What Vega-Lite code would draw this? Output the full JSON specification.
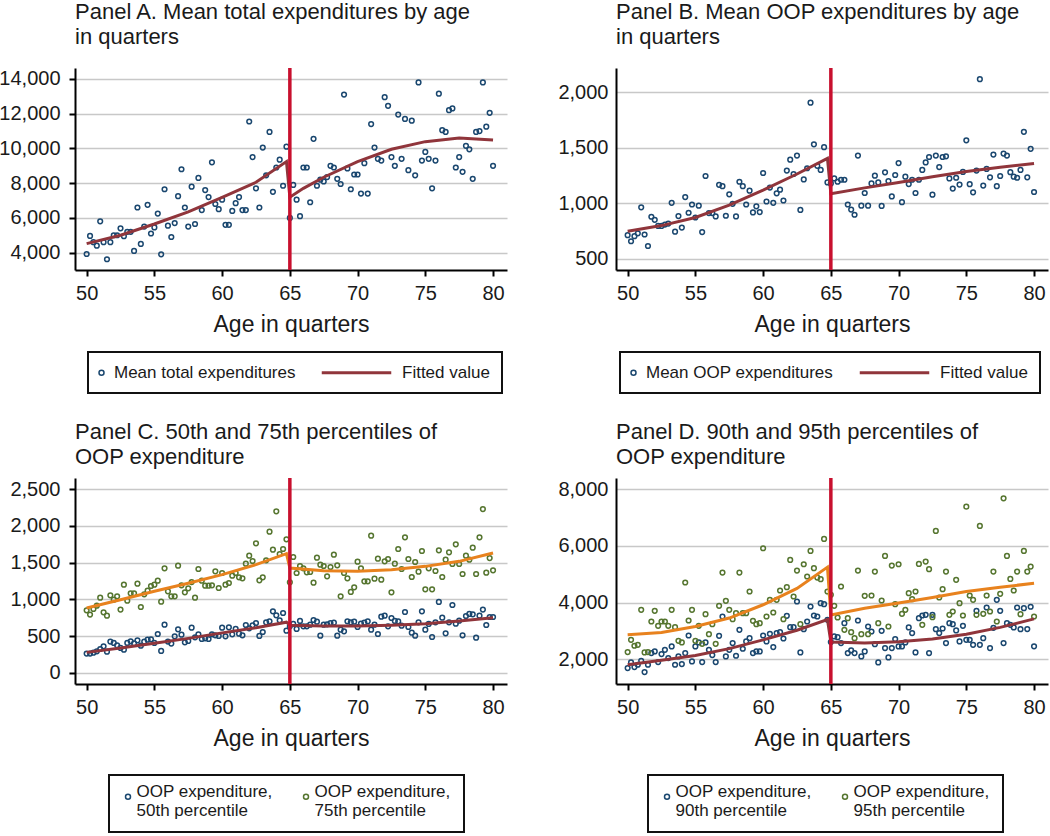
{
"$schema":"https://vega.github.io/schema/vega-lite/v6.json",
"autosize":{"type":"none"},
"padding":{"left":75,"top":68,"right":975,"bottom":768},
"background":"white",
"config":{
"font":"Liberation Sans",
"view":{"stroke":null},
"axis":{"domainColor":"#000","domainWidth":2,"tickColor":"#000","tickWidth":2,"tickSize":6,"labelFontSize":20,"labelColor":"#1a1a1a","titleFontSize":23,"titleFontWeight":"normal","titleColor":"#1a1a1a","gridColor":"#c8c8c8","gridWidth":1.5,"labelOverlap":false,"labelFlush":false},
"axisX":{"grid":false,"labelPadding":7,"titlePadding":10},
"axisY":{"grid":true,"labelPadding":9},
"legend":{"strokeColor":"#111","strokeWidth":2,"labelFontSize":17,"labelColor":"#1a1a1a","labelLimit":400,"symbolSize":25,"symbolStrokeWidth":1.5},
"title":{"fontSize":22,"fontWeight":"normal","anchor":"start","frame":"group","color":"#1a1a1a","lineHeight":25}
},
"datasets":{
"A":[{"age":50,"value":3920},{"age":50.25,"value":4960},{"age":50.5,"value":4600},{"age":50.75,"value":4400},{"age":51,"value":5800},{"age":51.25,"value":4600},{"age":51.5,"value":3620},{"age":51.75,"value":4600},{"age":52,"value":5000},{"age":52.25,"value":5000},
{"age":52.5,"value":5400},{"age":52.75,"value":4950},{"age":53,"value":5200},{"age":53.25,"value":5200},{"age":53.5,"value":4100},{"age":53.75,"value":6600},{"age":54,"value":4500},{"age":54.25,"value":5500},{"age":54.5,"value":6750},{"age":54.75,"value":5100},
{"age":55,"value":5450},{"age":55.25,"value":6250},{"age":55.5,"value":3900},{"age":55.75,"value":7650},{"age":56,"value":5550},{"age":56.25,"value":4900},{"age":56.5,"value":5700},{"age":56.75,"value":7250},{"age":57,"value":8800},{"age":57.25,"value":6600},
{"age":57.5,"value":5500},{"age":57.75,"value":7800},{"age":58,"value":5650},{"age":58.25,"value":8300},{"age":58.5,"value":6450},{"age":58.75,"value":7600},{"age":59,"value":7200},{"age":59.25,"value":9200},{"age":59.5,"value":6800},{"age":59.75,"value":6500},
{"age":60,"value":7050},{"age":60.25,"value":5600},{"age":60.5,"value":5600},{"age":60.75,"value":6400},{"age":61,"value":6850},{"age":61.25,"value":7200},{"age":61.5,"value":6450},{"age":61.75,"value":6450},{"age":62,"value":11550},{"age":62.25,"value":9500},
{"age":62.5,"value":7700},{"age":62.75,"value":6600},{"age":63,"value":10050},{"age":63.25,"value":8450},{"age":63.5,"value":10950},{"age":63.75,"value":7500},{"age":64,"value":8900},{"age":64.25,"value":9350},{"age":64.5,"value":7850},{"age":64.75,"value":10100},
{"age":65,"value":6000},
{"age":65.25,"value":7900},{"age":65.5,"value":7050},{"age":65.75,"value":6100},{"age":66,"value":8900},{"age":66.25,"value":8900},{"age":66.5,"value":6900},{"age":66.75,"value":10550},{"age":67,"value":7850},{"age":67.25,"value":8200},
{"age":67.5,"value":8100},{"age":67.75,"value":8350},{"age":68,"value":9000},{"age":68.25,"value":8900},{"age":68.5,"value":8250},{"age":68.75,"value":7950},{"age":69,"value":13100},{"age":69.25,"value":8850},{"age":69.5,"value":7650},{"age":69.75,"value":8500},
{"age":70,"value":8500},{"age":70.25,"value":7400},{"age":70.5,"value":9150},{"age":70.75,"value":7400},{"age":71,"value":11400},{"age":71.25,"value":10050},{"age":71.5,"value":9400},{"age":71.75,"value":9300},{"age":72,"value":12950},{"age":72.25,"value":12450},
{"age":72.5,"value":9500},{"age":72.75,"value":9000},{"age":73,"value":11950},{"age":73.25,"value":9400},{"age":73.5,"value":11700},{"age":73.75,"value":8750},{"age":74,"value":11600},{"age":74.25,"value":8450},{"age":74.5,"value":13800},{"age":74.75,"value":9300},
{"age":75,"value":9800},{"age":75.25,"value":9400},{"age":75.5,"value":7700},{"age":75.75,"value":9300},{"age":76,"value":13150},{"age":76.25,"value":11050},{"age":76.5,"value":10950},{"age":76.75,"value":12200},{"age":77,"value":12300},{"age":77.25,"value":8900},
{"age":77.5,"value":9500},{"age":77.75,"value":8650},{"age":78,"value":10150},{"age":78.25,"value":9950},{"age":78.5,"value":8250},{"age":78.75,"value":10950},{"age":79,"value":11000},{"age":79.25,"value":13800},{"age":79.5,"value":11250},{"age":79.75,"value":12050},{"age":80,"value":9000}],
"Afit":[{"age":50,"value":4520},{"age":52.5,"value":5000},{"age":55,"value":5650},{"age":57.5,"value":6350},{"age":60,"value":7180},{"age":62.5,"value":8050},{"age":64.75,"value":9240},{"age":65,"value":7190},{"age":66,"value":7700},{"age":67.5,"value":8340},{"age":70,"value":9240},{"age":72.5,"value":9950},{"age":75,"value":10390},{"age":77.5,"value":10600},{"age":80,"value":10490}],
"B":[{"age":50,"value":714},{"age":50.25,"value":659},{"age":50.5,"value":705},{"age":50.75,"value":730},{"age":51,"value":965},{"age":51.25,"value":720},{"age":51.5,"value":616},{"age":51.75,"value":880},{"age":52,"value":852},{"age":52.25,"value":797},
{"age":52.5,"value":797},{"age":52.75,"value":809},{"age":53,"value":818},{"age":53.25,"value":1005},{"age":53.5,"value":745},{"age":53.75,"value":886},{"age":54,"value":782},{"age":54.25,"value":1057},{"age":54.5,"value":916},{"age":54.75,"value":990},
{"age":55,"value":873},{"age":55.25,"value":980},{"age":55.5,"value":742},{"age":55.75,"value":1247},{"age":56,"value":913},{"age":56.25,"value":913},{"age":56.5,"value":883},{"age":56.75,"value":1167},{"age":57,"value":1155},{"age":57.25,"value":889},
{"age":57.5,"value":1082},{"age":57.75,"value":996},{"age":58,"value":883},{"age":58.25,"value":1195},{"age":58.5,"value":1155},{"age":58.75,"value":990},{"age":59,"value":1115},{"age":59.25,"value":919},{"age":59.5,"value":974},{"age":59.75,"value":922},
{"age":60,"value":1274},{"age":60.25,"value":1017},{"age":60.5,"value":1143},{"age":60.75,"value":1005},{"age":61,"value":1091},{"age":61.25,"value":1124},{"age":61.5,"value":1026},{"age":61.75,"value":1296},{"age":62,"value":1394},{"age":62.25,"value":1265},
{"age":62.5,"value":1431},{"age":62.75,"value":941},{"age":63,"value":1216},{"age":63.25,"value":1317},{"age":63.5,"value":1908},{"age":63.75,"value":1532},{"age":64,"value":1339},{"age":64.25,"value":1302},{"age":64.5,"value":1507},{"age":64.75,"value":1189},
{"age":65,"value":1180},
{"age":65.25,"value":1225},{"age":65.5,"value":1195},{"age":65.75,"value":1213},{"age":66,"value":1213},{"age":66.25,"value":990},{"age":66.5,"value":944},{"age":66.75,"value":898},{"age":67,"value":1431},{"age":67.25,"value":980},
{"age":67.5,"value":1094},{"age":67.75,"value":980},{"age":68,"value":1180},{"age":68.25,"value":1250},{"age":68.5,"value":1189},{"age":68.75,"value":977},{"age":69,"value":1280},{"age":69.25,"value":1201},{"age":69.5,"value":1063},{"age":69.75,"value":1256},
{"age":70,"value":1363},{"age":70.25,"value":1011},{"age":70.5,"value":1241},{"age":70.75,"value":1174},{"age":71,"value":1213},{"age":71.25,"value":1094},{"age":71.5,"value":1213},{"age":71.75,"value":1302},{"age":72,"value":1369},{"age":72.25,"value":1418},
{"age":72.5,"value":1079},{"age":72.75,"value":1431},{"age":73,"value":1327},{"age":73.25,"value":1418},{"age":73.5,"value":1424},{"age":73.75,"value":1225},{"age":74,"value":1134},{"age":74.25,"value":1231},{"age":74.5,"value":1170},{"age":74.75,"value":1284},
{"age":75,"value":1568},{"age":75.25,"value":1173},{"age":75.5,"value":1100},{"age":75.75,"value":1296},{"age":76,"value":2119},{"age":76.25,"value":1161},{"age":76.5,"value":1311},{"age":76.75,"value":1235},{"age":77,"value":1440},{"age":77.25,"value":1155},
{"age":77.5,"value":1247},{"age":77.75,"value":1449},{"age":78,"value":1431},{"age":78.25,"value":1281},{"age":78.5,"value":1241},{"age":78.75,"value":1231},{"age":79,"value":1302},{"age":79.25,"value":1645},{"age":79.5,"value":1235},{"age":79.75,"value":1492},{"age":80,"value":1103}],
"Bfit":[{"age":50,"value":750},{"age":52.5,"value":800},{"age":55,"value":873},{"age":57.5,"value":985},{"age":60,"value":1120},{"age":62.5,"value":1265},{"age":64.75,"value":1405},{"age":65,"value":1088},{"age":67.5,"value":1140},{"age":70,"value":1189},{"age":72.5,"value":1240},{"age":75,"value":1287},{"age":77.5,"value":1325},{"age":80,"value":1360}],
"C":[{"age":50,"value":263,"series":"50th percentile"},{"age":50.25,"value":263,"series":"50th percentile"},{"age":50.5,"value":276,"series":"50th percentile"},{"age":50.75,"value":294,"series":"50th percentile"},{"age":51,"value":326,"series":"50th percentile"},{"age":51.25,"value":362,"series":"50th percentile"},{"age":51.5,"value":290,"series":"50th percentile"},{"age":51.75,"value":426,"series":"50th percentile"},{"age":52,"value":408,"series":"50th percentile"},{"age":52.25,"value":376,"series":"50th percentile"},
{"age":52.5,"value":340,"series":"50th percentile"},{"age":52.75,"value":317,"series":"50th percentile"},{"age":53,"value":408,"series":"50th percentile"},{"age":53.25,"value":430,"series":"50th percentile"},{"age":53.5,"value":403,"series":"50th percentile"},{"age":53.75,"value":444,"series":"50th percentile"},{"age":54,"value":371,"series":"50th percentile"},{"age":54.25,"value":426,"series":"50th percentile"},{"age":54.5,"value":453,"series":"50th percentile"},{"age":54.75,"value":457,"series":"50th percentile"},
{"age":55,"value":408,"series":"50th percentile"},{"age":55.25,"value":530,"series":"50th percentile"},{"age":55.5,"value":299,"series":"50th percentile"},{"age":55.75,"value":657,"series":"50th percentile"},{"age":56,"value":426,"series":"50th percentile"},{"age":56.25,"value":399,"series":"50th percentile"},{"age":56.5,"value":498,"series":"50th percentile"},{"age":56.75,"value":593,"series":"50th percentile"},{"age":57,"value":521,"series":"50th percentile"},{"age":57.25,"value":417,"series":"50th percentile"},
{"age":57.5,"value":435,"series":"50th percentile"},{"age":57.75,"value":616,"series":"50th percentile"},{"age":58,"value":485,"series":"50th percentile"},{"age":58.25,"value":525,"series":"50th percentile"},{"age":58.5,"value":462,"series":"50th percentile"},{"age":58.75,"value":471,"series":"50th percentile"},{"age":59,"value":462,"series":"50th percentile"},{"age":59.25,"value":525,"series":"50th percentile"},{"age":59.5,"value":512,"series":"50th percentile"},{"age":59.75,"value":503,"series":"50th percentile"},
{"age":60,"value":616,"series":"50th percentile"},{"age":60.25,"value":498,"series":"50th percentile"},{"age":60.5,"value":620,"series":"50th percentile"},{"age":60.75,"value":525,"series":"50th percentile"},{"age":61,"value":598,"series":"50th percentile"},{"age":61.25,"value":534,"series":"50th percentile"},{"age":61.5,"value":512,"series":"50th percentile"},{"age":61.75,"value":652,"series":"50th percentile"},{"age":62,"value":607,"series":"50th percentile"},{"age":62.25,"value":648,"series":"50th percentile"},
{"age":62.5,"value":679,"series":"50th percentile"},{"age":62.75,"value":503,"series":"50th percentile"},{"age":63,"value":557,"series":"50th percentile"},{"age":63.25,"value":688,"series":"50th percentile"},{"age":63.5,"value":702,"series":"50th percentile"},{"age":63.75,"value":838,"series":"50th percentile"},{"age":64,"value":783,"series":"50th percentile"},{"age":64.25,"value":716,"series":"50th percentile"},{"age":64.5,"value":815,"series":"50th percentile"},{"age":64.75,"value":575,"series":"50th percentile"},
{"age":65,"value":634,"series":"50th percentile"},
{"age":65.25,"value":666,"series":"50th percentile"},{"age":65.5,"value":598,"series":"50th percentile"},{"age":65.75,"value":707,"series":"50th percentile"},{"age":66,"value":634,"series":"50th percentile"},{"age":66.25,"value":634,"series":"50th percentile"},{"age":66.5,"value":657,"series":"50th percentile"},{"age":66.75,"value":720,"series":"50th percentile"},{"age":67,"value":697,"series":"50th percentile"},{"age":67.25,"value":507,"series":"50th percentile"},
{"age":67.5,"value":657,"series":"50th percentile"},{"age":67.75,"value":661,"series":"50th percentile"},{"age":68,"value":679,"series":"50th percentile"},{"age":68.25,"value":684,"series":"50th percentile"},{"age":68.5,"value":507,"series":"50th percentile"},{"age":68.75,"value":589,"series":"50th percentile"},{"age":69,"value":566,"series":"50th percentile"},{"age":69.25,"value":702,"series":"50th percentile"},{"age":69.5,"value":688,"series":"50th percentile"},{"age":69.75,"value":697,"series":"50th percentile"},
{"age":70,"value":625,"series":"50th percentile"},{"age":70.25,"value":670,"series":"50th percentile"},{"age":70.5,"value":684,"series":"50th percentile"},{"age":70.75,"value":702,"series":"50th percentile"},{"age":71,"value":589,"series":"50th percentile"},{"age":71.25,"value":657,"series":"50th percentile"},{"age":71.5,"value":530,"series":"50th percentile"},{"age":71.75,"value":765,"series":"50th percentile"},{"age":72,"value":779,"series":"50th percentile"},{"age":72.25,"value":634,"series":"50th percentile"},
{"age":72.5,"value":747,"series":"50th percentile"},{"age":72.75,"value":707,"series":"50th percentile"},{"age":73,"value":702,"series":"50th percentile"},{"age":73.25,"value":643,"series":"50th percentile"},{"age":73.5,"value":829,"series":"50th percentile"},{"age":73.75,"value":625,"series":"50th percentile"},{"age":74,"value":548,"series":"50th percentile"},{"age":74.25,"value":507,"series":"50th percentile"},{"age":74.5,"value":688,"series":"50th percentile"},{"age":74.75,"value":838,"series":"50th percentile"},
{"age":75,"value":589,"series":"50th percentile"},{"age":75.25,"value":666,"series":"50th percentile"},{"age":75.5,"value":489,"series":"50th percentile"},{"age":75.75,"value":688,"series":"50th percentile"},{"age":76,"value":965,"series":"50th percentile"},{"age":76.25,"value":752,"series":"50th percentile"},{"age":76.5,"value":539,"series":"50th percentile"},{"age":76.75,"value":688,"series":"50th percentile"},{"age":77,"value":924,"series":"50th percentile"},{"age":77.25,"value":670,"series":"50th percentile"},
{"age":77.5,"value":711,"series":"50th percentile"},{"age":77.75,"value":512,"series":"50th percentile"},{"age":78,"value":774,"series":"50th percentile"},{"age":78.25,"value":802,"series":"50th percentile"},{"age":78.5,"value":797,"series":"50th percentile"},{"age":78.75,"value":480,"series":"50th percentile"},{"age":79,"value":779,"series":"50th percentile"},{"age":79.25,"value":861,"series":"50th percentile"},{"age":79.5,"value":652,"series":"50th percentile"},{"age":79.75,"value":761,"series":"50th percentile"},{"age":80,"value":761,"series":"50th percentile"},
{"age":50,"value":851,"series":"75th percentile"},{"age":50.25,"value":793,"series":"75th percentile"},{"age":50.5,"value":870,"series":"75th percentile"},{"age":50.75,"value":915,"series":"75th percentile"},{"age":51,"value":1024,"series":"75th percentile"},{"age":51.25,"value":824,"series":"75th percentile"},{"age":51.5,"value":779,"series":"75th percentile"},{"age":51.75,"value":1055,"series":"75th percentile"},{"age":52,"value":996,"series":"75th percentile"},{"age":52.25,"value":1042,"series":"75th percentile"},
{"age":52.5,"value":861,"series":"75th percentile"},{"age":52.75,"value":1200,"series":"75th percentile"},{"age":53,"value":983,"series":"75th percentile"},{"age":53.25,"value":1082,"series":"75th percentile"},{"age":53.5,"value":1082,"series":"75th percentile"},{"age":53.75,"value":1214,"series":"75th percentile"},{"age":54,"value":897,"series":"75th percentile"},{"age":54.25,"value":1069,"series":"75th percentile"},{"age":54.5,"value":1119,"series":"75th percentile"},{"age":54.75,"value":1182,"series":"75th percentile"},
{"age":55,"value":1200,"series":"75th percentile"},{"age":55.25,"value":1254,"series":"75th percentile"},{"age":55.5,"value":969,"series":"75th percentile"},{"age":55.75,"value":1422,"series":"75th percentile"},{"age":56,"value":1110,"series":"75th percentile"},{"age":56.25,"value":1042,"series":"75th percentile"},{"age":56.5,"value":1042,"series":"75th percentile"},{"age":56.75,"value":1458,"series":"75th percentile"},{"age":57,"value":1191,"series":"75th percentile"},{"age":57.25,"value":1096,"series":"75th percentile"},
{"age":57.5,"value":1150,"series":"75th percentile"},{"age":57.75,"value":1236,"series":"75th percentile"},{"age":58,"value":1024,"series":"75th percentile"},{"age":58.25,"value":1413,"series":"75th percentile"},{"age":58.5,"value":1254,"series":"75th percentile"},{"age":58.75,"value":1187,"series":"75th percentile"},{"age":59,"value":1187,"series":"75th percentile"},{"age":59.25,"value":1191,"series":"75th percentile"},{"age":59.5,"value":1381,"series":"75th percentile"},{"age":59.75,"value":1155,"series":"75th percentile"},
{"age":60,"value":1359,"series":"75th percentile"},{"age":60.25,"value":1200,"series":"75th percentile"},{"age":60.5,"value":1223,"series":"75th percentile"},{"age":60.75,"value":1322,"series":"75th percentile"},{"age":61,"value":1359,"series":"75th percentile"},{"age":61.25,"value":1300,"series":"75th percentile"},{"age":61.5,"value":1286,"series":"75th percentile"},{"age":61.75,"value":1485,"series":"75th percentile"},{"age":62,"value":1594,"series":"75th percentile"},{"age":62.25,"value":1522,"series":"75th percentile"},
{"age":62.5,"value":1762,"series":"75th percentile"},{"age":62.75,"value":1259,"series":"75th percentile"},{"age":63,"value":1300,"series":"75th percentile"},{"age":63.25,"value":1531,"series":"75th percentile"},{"age":63.5,"value":1920,"series":"75th percentile"},{"age":63.75,"value":1676,"series":"75th percentile"},{"age":64,"value":2197,"series":"75th percentile"},{"age":64.25,"value":1617,"series":"75th percentile"},{"age":64.5,"value":1685,"series":"75th percentile"},{"age":64.75,"value":1816,"series":"75th percentile"},
{"age":65,"value":1232,"series":"75th percentile"},
{"age":65.25,"value":1576,"series":"75th percentile"},{"age":65.5,"value":1359,"series":"75th percentile"},{"age":65.75,"value":1454,"series":"75th percentile"},{"age":66,"value":1422,"series":"75th percentile"},{"age":66.25,"value":1368,"series":"75th percentile"},{"age":66.5,"value":1372,"series":"75th percentile"},{"age":66.75,"value":1227,"series":"75th percentile"},{"age":67,"value":1567,"series":"75th percentile"},{"age":67.25,"value":1472,"series":"75th percentile"},
{"age":67.5,"value":1454,"series":"75th percentile"},{"age":67.75,"value":1313,"series":"75th percentile"},{"age":68,"value":1440,"series":"75th percentile"},{"age":68.25,"value":1608,"series":"75th percentile"},{"age":68.5,"value":1463,"series":"75th percentile"},{"age":68.75,"value":1042,"series":"75th percentile"},{"age":69,"value":1359,"series":"75th percentile"},{"age":69.25,"value":1286,"series":"75th percentile"},{"age":69.5,"value":1101,"series":"75th percentile"},{"age":69.75,"value":1164,"series":"75th percentile"},
{"age":70,"value":1513,"series":"75th percentile"},{"age":70.25,"value":1422,"series":"75th percentile"},{"age":70.5,"value":1245,"series":"75th percentile"},{"age":70.75,"value":1245,"series":"75th percentile"},{"age":71,"value":1866,"series":"75th percentile"},{"age":71.25,"value":1282,"series":"75th percentile"},{"age":71.5,"value":1553,"series":"75th percentile"},{"age":71.75,"value":1268,"series":"75th percentile"},{"age":72,"value":1517,"series":"75th percentile"},{"age":72.25,"value":1549,"series":"75th percentile"},
{"age":72.5,"value":1096,"series":"75th percentile"},{"age":72.75,"value":1485,"series":"75th percentile"},{"age":73,"value":1685,"series":"75th percentile"},{"age":73.25,"value":1413,"series":"75th percentile"},{"age":73.5,"value":1843,"series":"75th percentile"},{"age":73.75,"value":1549,"series":"75th percentile"},{"age":74,"value":1304,"series":"75th percentile"},{"age":74.25,"value":1508,"series":"75th percentile"},{"age":74.5,"value":1377,"series":"75th percentile"},{"age":74.75,"value":1658,"series":"75th percentile"},
{"age":75,"value":1137,"series":"75th percentile"},{"age":75.25,"value":1422,"series":"75th percentile"},{"age":75.5,"value":1137,"series":"75th percentile"},{"age":75.75,"value":1386,"series":"75th percentile"},{"age":76,"value":1667,"series":"75th percentile"},{"age":76.25,"value":1304,"series":"75th percentile"},{"age":76.5,"value":1540,"series":"75th percentile"},{"age":76.75,"value":1640,"series":"75th percentile"},{"age":77,"value":1481,"series":"75th percentile"},{"age":77.25,"value":1748,"series":"75th percentile"},
{"age":77.5,"value":1481,"series":"75th percentile"},{"age":77.75,"value":1345,"series":"75th percentile"},{"age":78,"value":1594,"series":"75th percentile"},{"age":78.25,"value":1540,"series":"75th percentile"},{"age":78.5,"value":1703,"series":"75th percentile"},{"age":78.75,"value":1345,"series":"75th percentile"},{"age":79,"value":1843,"series":"75th percentile"},{"age":79.25,"value":2228,"series":"75th percentile"},{"age":79.5,"value":1363,"series":"75th percentile"},{"age":79.75,"value":1562,"series":"75th percentile"},{"age":80,"value":1395,"series":"75th percentile"}],
"Cfit":[{"age":50,"value":280,"series":"50th percentile"},{"age":52.5,"value":340,"series":"50th percentile"},{"age":55,"value":405,"series":"50th percentile"},{"age":57.5,"value":470,"series":"50th percentile"},{"age":60,"value":545,"series":"50th percentile"},{"age":62.5,"value":615,"series":"50th percentile"},{"age":64.75,"value":690,"series":"50th percentile"},{"age":65,"value":650,"series":"50th percentile"},{"age":67.5,"value":640,"series":"50th percentile"},{"age":70,"value":640,"series":"50th percentile"},{"age":72.5,"value":650,"series":"50th percentile"},{"age":75,"value":670,"series":"50th percentile"},{"age":77.5,"value":705,"series":"50th percentile"},{"age":80,"value":750,"series":"50th percentile"},
{"age":50,"value":883,"series":"75th percentile"},{"age":52.5,"value":995,"series":"75th percentile"},{"age":55,"value":1110,"series":"75th percentile"},{"age":57.5,"value":1220,"series":"75th percentile"},{"age":60,"value":1336,"series":"75th percentile"},{"age":62.5,"value":1472,"series":"75th percentile"},{"age":64.75,"value":1621,"series":"75th percentile"},{"age":65,"value":1427,"series":"75th percentile"},{"age":67.5,"value":1390,"series":"75th percentile"},{"age":70,"value":1381,"series":"75th percentile"},{"age":72.5,"value":1404,"series":"75th percentile"},{"age":75,"value":1449,"series":"75th percentile"},{"age":77.5,"value":1517,"series":"75th percentile"},{"age":80,"value":1630,"series":"75th percentile"}],
"D":[{"age":50,"value":1682,"series":"90th percentile"},{"age":50.25,"value":1882,"series":"90th percentile"},{"age":50.5,"value":1718,"series":"90th percentile"},{"age":50.75,"value":1800,"series":"90th percentile"},{"age":51,"value":1941,"series":"90th percentile"},{"age":51.25,"value":1541,"series":"90th percentile"},{"age":51.5,"value":1800,"series":"90th percentile"},{"age":51.75,"value":2212,"series":"90th percentile"},{"age":52,"value":2271,"series":"90th percentile"},{"age":52.25,"value":1894,"series":"90th percentile"},
{"age":52.5,"value":2176,"series":"90th percentile"},{"age":52.75,"value":2329,"series":"90th percentile"},{"age":53,"value":2035,"series":"90th percentile"},{"age":53.25,"value":2447,"series":"90th percentile"},{"age":53.5,"value":1800,"series":"90th percentile"},{"age":53.75,"value":2094,"series":"90th percentile"},{"age":54,"value":1824,"series":"90th percentile"},{"age":54.25,"value":2212,"series":"90th percentile"},{"age":54.5,"value":2835,"series":"90th percentile"},{"age":54.75,"value":1918,"series":"90th percentile"},
{"age":55,"value":2447,"series":"90th percentile"},{"age":55.25,"value":2588,"series":"90th percentile"},{"age":55.5,"value":1894,"series":"90th percentile"},{"age":55.75,"value":2588,"series":"90th percentile"},{"age":56,"value":2329,"series":"90th percentile"},{"age":56.25,"value":2141,"series":"90th percentile"},{"age":56.5,"value":1894,"series":"90th percentile"},{"age":56.75,"value":2824,"series":"90th percentile"},{"age":57,"value":3506,"series":"90th percentile"},{"age":57.25,"value":2094,"series":"90th percentile"},
{"age":57.5,"value":2329,"series":"90th percentile"},{"age":57.75,"value":2565,"series":"90th percentile"},{"age":58,"value":2118,"series":"90th percentile"},{"age":58.25,"value":3035,"series":"90th percentile"},{"age":58.5,"value":2365,"series":"90th percentile"},{"age":58.75,"value":2624,"series":"90th percentile"},{"age":59,"value":2741,"series":"90th percentile"},{"age":59.25,"value":2212,"series":"90th percentile"},{"age":59.5,"value":2271,"series":"90th percentile"},{"age":59.75,"value":2271,"series":"90th percentile"},
{"age":60,"value":2835,"series":"90th percentile"},{"age":60.25,"value":2624,"series":"90th percentile"},{"age":60.5,"value":2894,"series":"90th percentile"},{"age":60.75,"value":2424,"series":"90th percentile"},{"age":61,"value":2918,"series":"90th percentile"},{"age":61.25,"value":2953,"series":"90th percentile"},{"age":61.5,"value":2729,"series":"90th percentile"},{"age":61.75,"value":3529,"series":"90th percentile"},{"age":62,"value":3129,"series":"90th percentile"},{"age":62.25,"value":3129,"series":"90th percentile"},
{"age":62.5,"value":4035,"series":"90th percentile"},{"age":62.75,"value":2235,"series":"90th percentile"},{"age":63,"value":3059,"series":"90th percentile"},{"age":63.25,"value":3329,"series":"90th percentile"},{"age":63.5,"value":3859,"series":"90th percentile"},{"age":63.75,"value":3541,"series":"90th percentile"},{"age":64,"value":3506,"series":"90th percentile"},{"age":64.25,"value":3976,"series":"90th percentile"},{"age":64.5,"value":3941,"series":"90th percentile"},{"age":64.75,"value":3388,"series":"90th percentile"},
{"age":65,"value":2600,"series":"90th percentile"},
{"age":65.25,"value":2800,"series":"90th percentile"},{"age":65.5,"value":2776,"series":"90th percentile"},{"age":65.75,"value":2565,"series":"90th percentile"},{"age":66,"value":3271,"series":"90th percentile"},{"age":66.25,"value":2212,"series":"90th percentile"},{"age":66.5,"value":2306,"series":"90th percentile"},{"age":66.75,"value":2212,"series":"90th percentile"},{"age":67,"value":3365,"series":"90th percentile"},{"age":67.25,"value":2094,"series":"90th percentile"},
{"age":67.5,"value":2271,"series":"90th percentile"},{"age":67.75,"value":3153,"series":"90th percentile"},{"age":68,"value":2976,"series":"90th percentile"},{"age":68.25,"value":2529,"series":"90th percentile"},{"age":68.5,"value":1882,"series":"90th percentile"},{"age":68.75,"value":3000,"series":"90th percentile"},{"age":69,"value":2388,"series":"90th percentile"},{"age":69.25,"value":2059,"series":"90th percentile"},{"age":69.5,"value":2388,"series":"90th percentile"},{"age":69.75,"value":2706,"series":"90th percentile"},
{"age":70,"value":2447,"series":"90th percentile"},{"age":70.25,"value":2447,"series":"90th percentile"},{"age":70.5,"value":2588,"series":"90th percentile"},{"age":70.75,"value":3118,"series":"90th percentile"},{"age":71,"value":2918,"series":"90th percentile"},{"age":71.25,"value":2235,"series":"90th percentile"},{"age":71.5,"value":3447,"series":"90th percentile"},{"age":71.75,"value":3541,"series":"90th percentile"},{"age":72,"value":3565,"series":"90th percentile"},{"age":72.25,"value":2212,"series":"90th percentile"},
{"age":72.5,"value":3565,"series":"90th percentile"},{"age":72.75,"value":3059,"series":"90th percentile"},{"age":73,"value":2918,"series":"90th percentile"},{"age":73.25,"value":3082,"series":"90th percentile"},{"age":73.5,"value":2565,"series":"90th percentile"},{"age":73.75,"value":3271,"series":"90th percentile"},{"age":74,"value":3235,"series":"90th percentile"},{"age":74.25,"value":3012,"series":"90th percentile"},{"age":74.5,"value":2624,"series":"90th percentile"},{"age":74.75,"value":3176,"series":"90th percentile"},
{"age":75,"value":2682,"series":"90th percentile"},{"age":75.25,"value":2682,"series":"90th percentile"},{"age":75.5,"value":2506,"series":"90th percentile"},{"age":75.75,"value":3706,"series":"90th percentile"},{"age":76,"value":2506,"series":"90th percentile"},{"age":76.25,"value":2741,"series":"90th percentile"},{"age":76.5,"value":3824,"series":"90th percentile"},{"age":76.75,"value":2388,"series":"90th percentile"},{"age":77,"value":3106,"series":"90th percentile"},{"age":77.25,"value":4094,"series":"90th percentile"},
{"age":77.5,"value":3706,"series":"90th percentile"},{"age":77.75,"value":2565,"series":"90th percentile"},{"age":78,"value":3271,"series":"90th percentile"},{"age":78.25,"value":3212,"series":"90th percentile"},{"age":78.5,"value":3118,"series":"90th percentile"},{"age":78.75,"value":3824,"series":"90th percentile"},{"age":79,"value":3059,"series":"90th percentile"},{"age":79.25,"value":3800,"series":"90th percentile"},{"age":79.5,"value":3060,"series":"90th percentile"},{"age":79.75,"value":3850,"series":"90th percentile"},{"age":80,"value":2450,"series":"90th percentile"},
{"age":50,"value":2247,"series":"95th percentile"},{"age":50.25,"value":2682,"series":"95th percentile"},{"age":50.5,"value":2471,"series":"95th percentile"},{"age":50.75,"value":2506,"series":"95th percentile"},{"age":51,"value":3741,"series":"95th percentile"},{"age":51.25,"value":2235,"series":"95th percentile"},{"age":51.5,"value":2247,"series":"95th percentile"},{"age":51.75,"value":3329,"series":"95th percentile"},{"age":52,"value":3706,"series":"95th percentile"},{"age":52.25,"value":3176,"series":"95th percentile"},
{"age":52.5,"value":3329,"series":"95th percentile"},{"age":52.75,"value":3329,"series":"95th percentile"},{"age":53,"value":3176,"series":"95th percentile"},{"age":53.25,"value":3741,"series":"95th percentile"},{"age":53.5,"value":3129,"series":"95th percentile"},{"age":53.75,"value":2647,"series":"95th percentile"},{"age":54,"value":2588,"series":"95th percentile"},{"age":54.25,"value":4706,"series":"95th percentile"},{"age":54.5,"value":3365,"series":"95th percentile"},{"age":54.75,"value":3741,"series":"95th percentile"},
{"age":55,"value":2647,"series":"95th percentile"},{"age":55.25,"value":3176,"series":"95th percentile"},{"age":55.5,"value":2541,"series":"95th percentile"},{"age":55.75,"value":3588,"series":"95th percentile"},{"age":56,"value":2882,"series":"95th percentile"},{"age":56.25,"value":3235,"series":"95th percentile"},{"age":56.5,"value":2541,"series":"95th percentile"},{"age":56.75,"value":3882,"series":"95th percentile"},{"age":57,"value":5059,"series":"95th percentile"},{"age":57.25,"value":4059,"series":"95th percentile"},
{"age":57.5,"value":3741,"series":"95th percentile"},{"age":57.75,"value":3412,"series":"95th percentile"},{"age":58,"value":3624,"series":"95th percentile"},{"age":58.25,"value":5059,"series":"95th percentile"},{"age":58.5,"value":3624,"series":"95th percentile"},{"age":58.75,"value":3624,"series":"95th percentile"},{"age":59,"value":4388,"series":"95th percentile"},{"age":59.25,"value":3353,"series":"95th percentile"},{"age":59.5,"value":3235,"series":"95th percentile"},{"age":59.75,"value":3271,"series":"95th percentile"},
{"age":60,"value":5918,"series":"95th percentile"},{"age":60.25,"value":3506,"series":"95th percentile"},{"age":60.5,"value":4094,"series":"95th percentile"},{"age":60.75,"value":3647,"series":"95th percentile"},{"age":61,"value":4094,"series":"95th percentile"},{"age":61.25,"value":4424,"series":"95th percentile"},{"age":61.5,"value":3412,"series":"95th percentile"},{"age":61.75,"value":4541,"series":"95th percentile"},{"age":62,"value":5506,"series":"95th percentile"},{"age":62.25,"value":4212,"series":"95th percentile"},
{"age":62.5,"value":5129,"series":"95th percentile"},{"age":62.75,"value":3235,"series":"95th percentile"},{"age":63,"value":5353,"series":"95th percentile"},{"age":63.25,"value":4918,"series":"95th percentile"},{"age":63.5,"value":5824,"series":"95th percentile"},{"age":63.75,"value":5212,"series":"95th percentile"},{"age":64,"value":4882,"series":"95th percentile"},{"age":64.25,"value":4824,"series":"95th percentile"},{"age":64.5,"value":6247,"series":"95th percentile"},{"age":64.75,"value":4388,"series":"95th percentile"},
{"age":65,"value":4271,"series":"95th percentile"},
{"age":65.25,"value":3882,"series":"95th percentile"},{"age":65.5,"value":3471,"series":"95th percentile"},{"age":65.75,"value":4565,"series":"95th percentile"},{"age":66,"value":3035,"series":"95th percentile"},{"age":66.25,"value":3447,"series":"95th percentile"},{"age":66.5,"value":2953,"series":"95th percentile"},{"age":66.75,"value":2741,"series":"95th percentile"},{"age":67,"value":5129,"series":"95th percentile"},{"age":67.25,"value":2882,"series":"95th percentile"},
{"age":67.5,"value":4235,"series":"95th percentile"},{"age":67.75,"value":2882,"series":"95th percentile"},{"age":68,"value":4247,"series":"95th percentile"},{"age":68.25,"value":5094,"series":"95th percentile"},{"age":68.5,"value":3271,"series":"95th percentile"},{"age":68.75,"value":4071,"series":"95th percentile"},{"age":69,"value":5647,"series":"95th percentile"},{"age":69.25,"value":3153,"series":"95th percentile"},{"age":69.5,"value":5306,"series":"95th percentile"},{"age":69.75,"value":3941,"series":"95th percentile"},
{"age":70,"value":5353,"series":"95th percentile"},{"age":70.25,"value":3600,"series":"95th percentile"},{"age":70.5,"value":3741,"series":"95th percentile"},{"age":70.75,"value":4329,"series":"95th percentile"},{"age":71,"value":4118,"series":"95th percentile"},{"age":71.25,"value":4388,"series":"95th percentile"},{"age":71.5,"value":5365,"series":"95th percentile"},{"age":71.75,"value":3212,"series":"95th percentile"},{"age":72,"value":5447,"series":"95th percentile"},{"age":72.25,"value":5177,"series":"95th percentile"},
{"age":72.5,"value":3482,"series":"95th percentile"},{"age":72.75,"value":6529,"series":"95th percentile"},{"age":73,"value":4176,"series":"95th percentile"},{"age":73.25,"value":4471,"series":"95th percentile"},{"age":73.5,"value":5094,"series":"95th percentile"},{"age":73.75,"value":3565,"series":"95th percentile"},{"age":74,"value":3682,"series":"95th percentile"},{"age":74.25,"value":4800,"series":"95th percentile"},{"age":74.5,"value":3976,"series":"95th percentile"},{"age":74.75,"value":3541,"series":"95th percentile"},
{"age":75,"value":7388,"series":"95th percentile"},{"age":75.25,"value":4247,"series":"95th percentile"},{"age":75.5,"value":4094,"series":"95th percentile"},{"age":75.75,"value":3565,"series":"95th percentile"},{"age":76,"value":6706,"series":"95th percentile"},{"age":76.25,"value":3600,"series":"95th percentile"},{"age":76.5,"value":4247,"series":"95th percentile"},{"age":76.75,"value":3682,"series":"95th percentile"},{"age":77,"value":5094,"series":"95th percentile"},{"age":77.25,"value":3329,"series":"95th percentile"},
{"age":77.5,"value":4306,"series":"95th percentile"},{"age":77.75,"value":7682,"series":"95th percentile"},{"age":78,"value":5647,"series":"95th percentile"},{"age":78.25,"value":4835,"series":"95th percentile"},{"age":78.5,"value":4424,"series":"95th percentile"},{"age":78.75,"value":5094,"series":"95th percentile"},{"age":79,"value":3588,"series":"95th percentile"},{"age":79.25,"value":5824,"series":"95th percentile"},{"age":79.5,"value":5094,"series":"95th percentile"},{"age":79.75,"value":5271,"series":"95th percentile"},{"age":80,"value":3506,"series":"95th percentile"}],
"Dfit":[{"age":50,"value":1800,"series":"90th percentile"},{"age":52.5,"value":1960,"series":"90th percentile"},{"age":55,"value":2130,"series":"90th percentile"},{"age":57.5,"value":2370,"series":"90th percentile"},{"age":60,"value":2680,"series":"90th percentile"},{"age":62.5,"value":3020,"series":"90th percentile"},{"age":64.75,"value":3400,"series":"90th percentile"},{"age":65,"value":2600,"series":"90th percentile"},{"age":67.5,"value":2570,"series":"90th percentile"},{"age":70,"value":2610,"series":"90th percentile"},{"age":72.5,"value":2710,"series":"90th percentile"},{"age":75,"value":2880,"series":"90th percentile"},{"age":77.5,"value":3120,"series":"90th percentile"},{"age":80,"value":3420,"series":"90th percentile"},
{"age":50,"value":2860,"series":"95th percentile"},{"age":52.5,"value":2940,"series":"95th percentile"},{"age":55,"value":3150,"series":"95th percentile"},{"age":57.5,"value":3450,"series":"95th percentile"},{"age":60,"value":3920,"series":"95th percentile"},{"age":62.5,"value":4500,"series":"95th percentile"},{"age":64.75,"value":5250,"series":"95th percentile"},{"age":65,"value":3560,"series":"95th percentile"},{"age":67.5,"value":3800,"series":"95th percentile"},{"age":70,"value":3980,"series":"95th percentile"},{"age":72.5,"value":4180,"series":"95th percentile"},{"age":75,"value":4390,"series":"95th percentile"},{"age":77.5,"value":4540,"series":"95th percentile"},{"age":80,"value":4680,"series":"95th percentile"}],
"cut":[{"age":65}]
},
"spacing":410,
"bounds":"flush",
"resolve":{"scale":{"color":"independent","stroke":"independent","shape":"independent"}},
"vconcat":[
{"hconcat":[
{"width":432,"height":202,
"title":{"text":["Panel A. Mean total expenditures by age","in quarters"],"offset":17},
"layer":[
{"data":{"name":"A"},"mark":{"type":"point","filled":false,"size":22,"strokeWidth":1.5,"opacity":1},
"encoding":{
"x":{"field":"age","type":"quantitative","scale":{"domain":[49.14,81.03],"nice":false,"zero":false},"axis":{"values":[50,55,60,65,70,75,80],"title":"Age in quarters"}},
"y":{"field":"value","type":"quantitative","scale":{"domain":[3000,14630],"nice":false,"zero":false},"axis":{"values":[4000,6000,8000,10000,12000,14000],"format":",.0f","title":null}},
"color":{"datum":"Mean total expenditures","type":"nominal","scale":{"domain":["Mean total expenditures","Fitted value"],"range":["#1a476f","#90353b"]},
"legend":{"orient":"none","legendX":13,"legendY":284,"title":null,"columns":2,"direction":"horizontal","columnPadding":23,"symbolOffset":-7,"labelOffset":4,"labelBaseline":"middle","padding":12}},
"shape":{"datum":"Mean total expenditures","type":"nominal","scale":{"domain":["Mean total expenditures","Fitted value"],"range":["circle","M-26.8,-0.3H0.4V0.3H-26.8Z"]},
"legend":{"orient":"none","legendX":13,"legendY":284,"title":null,"columns":2,"direction":"horizontal","columnPadding":23,"symbolOffset":-7,"labelOffset":4,"labelBaseline":"middle","padding":12}}}},
{"data":{"name":"Afit"},"mark":{"type":"line","strokeWidth":3},
"encoding":{"x":{"field":"age","type":"quantitative"},"y":{"field":"value","type":"quantitative"},"color":{"datum":"Fitted value","type":"nominal","legend":null}}},
{"data":{"name":"cut"},"mark":{"type":"rule","color":"#c8102e","strokeWidth":3.5},"encoding":{"x":{"field":"age","type":"quantitative"}}}
]},
{"width":432,"height":202,
"title":{"text":["Panel B. Mean OOP expenditures by age","in quarters"],"offset":17},
"layer":[
{"data":{"name":"B"},"mark":{"type":"point","filled":false,"size":22,"strokeWidth":1.5,"opacity":1},
"encoding":{
"x":{"field":"age","type":"quantitative","scale":{"domain":[49.14,81.03],"nice":false,"zero":false},"axis":{"values":[50,55,60,65,70,75,80],"title":"Age in quarters"}},
"y":{"field":"value","type":"quantitative","scale":{"domain":[400,2220],"nice":false,"zero":false},"axis":{"values":[500,1000,1500,2000],"format":",.0f","title":null,"tickSize":0,"labelPadding":8}},
"color":{"datum":"Mean OOP expenditures","type":"nominal","scale":{"domain":["Mean OOP expenditures","Fitted value"],"range":["#1a476f","#90353b"]},
"legend":{"orient":"none","legendX":4,"legendY":284,"title":null,"columns":2,"direction":"horizontal","columnPadding":23,"symbolOffset":-7,"labelOffset":4,"labelBaseline":"middle","padding":12}},
"shape":{"datum":"Mean OOP expenditures","type":"nominal","scale":{"domain":["Mean OOP expenditures","Fitted value"],"range":["circle","M-26.8,-0.3H0.4V0.3H-26.8Z"]},
"legend":{"orient":"none","legendX":4,"legendY":284,"title":null,"columns":2,"direction":"horizontal","columnPadding":23,"symbolOffset":-7,"labelOffset":4,"labelBaseline":"middle","padding":12}}}},
{"data":{"name":"Bfit"},"mark":{"type":"line","strokeWidth":3},
"encoding":{"x":{"field":"age","type":"quantitative"},"y":{"field":"value","type":"quantitative"},"color":{"datum":"Fitted value","type":"nominal","legend":null}}},
{"data":{"name":"cut"},"mark":{"type":"rule","color":"#c8102e","strokeWidth":3.5},"encoding":{"x":{"field":"age","type":"quantitative"}}}
]}
],"spacing":109,"bounds":"flush","resolve":{"scale":{"color":"independent","stroke":"independent","shape":"independent"}}},
{"hconcat":[
{"width":432,"height":206,
"title":{"text":["Panel C. 50th and 75th percentiles of","OOP expenditure"],"offset":7},
"layer":[
{"data":{"name":"C"},"mark":{"type":"point","shape":"circle","filled":false,"size":22,"strokeWidth":1.5,"opacity":1},
"encoding":{
"x":{"field":"age","type":"quantitative","scale":{"domain":[49.14,81.03],"nice":false,"zero":false},"axis":{"values":[50,55,60,65,70,75,80],"title":"Age in quarters"}},
"y":{"field":"value","type":"quantitative","scale":{"domain":[-150,2650],"nice":false,"zero":false},"axis":{"values":[0,500,1000,1500,2000,2500],"format":",.0f","title":null}},
"color":{"field":"series","type":"nominal","scale":{"domain":["50th percentile","75th percentile"],"range":["#1a476f","#55752f"]},
"legend":{"orient":"none","legendX":34,"legendY":297,"title":null,"columns":2,"direction":"horizontal","columnPadding":27,"symbolOffset":-2.5,"labelOffset":0,"labelBaseline":"alphabetic","padding":13,"labelExpr":"['OOP expenditure,', datum.label]"}}}},
{"data":{"name":"Cfit"},"mark":{"type":"line","strokeWidth":3},
"encoding":{"x":{"field":"age","type":"quantitative"},"y":{"field":"value","type":"quantitative"},"stroke":{"field":"series","type":"nominal","scale":{"domain":["50th percentile","75th percentile"],"range":["#90353b","#e8821e"]},"legend":null}}},
{"data":{"name":"cut"},"mark":{"type":"rule","color":"#c8102e","strokeWidth":3.5},"encoding":{"x":{"field":"age","type":"quantitative"}}}
]},
{"width":432,"height":206,
"title":{"text":["Panel D. 90th and 95th percentiles of","OOP expenditure"],"offset":7},
"layer":[
{"data":{"name":"D"},"mark":{"type":"point","shape":"circle","filled":false,"size":22,"strokeWidth":1.5,"opacity":1},
"encoding":{
"x":{"field":"age","type":"quantitative","scale":{"domain":[49.14,81.03],"nice":false,"zero":false},"axis":{"values":[50,55,60,65,70,75,80],"title":"Age in quarters"}},
"y":{"field":"value","type":"quantitative","scale":{"domain":[1120,8400],"nice":false,"zero":false},"axis":{"values":[2000,4000,6000,8000],"format":",.0f","title":null,"tickSize":0,"labelPadding":8}},
"color":{"field":"series","type":"nominal","scale":{"domain":["90th percentile","95th percentile"],"range":["#1a476f","#55752f"]},
"legend":{"orient":"none","legendX":32,"legendY":297,"title":null,"columns":2,"direction":"horizontal","columnPadding":27,"symbolOffset":-2.5,"labelOffset":0,"labelBaseline":"alphabetic","padding":13,"labelExpr":"['OOP expenditure,', datum.label]"}}}},
{"data":{"name":"Dfit"},"mark":{"type":"line","strokeWidth":3},
"encoding":{"x":{"field":"age","type":"quantitative"},"y":{"field":"value","type":"quantitative"},"stroke":{"field":"series","type":"nominal","scale":{"domain":["90th percentile","95th percentile"],"range":["#90353b","#e8821e"]},"legend":null}}},
{"data":{"name":"cut"},"mark":{"type":"rule","color":"#c8102e","strokeWidth":3.5},"encoding":{"x":{"field":"age","type":"quantitative"}}}
]}
],"spacing":109,"bounds":"flush","resolve":{"scale":{"color":"independent","stroke":"independent","shape":"independent"}}}
]
}
